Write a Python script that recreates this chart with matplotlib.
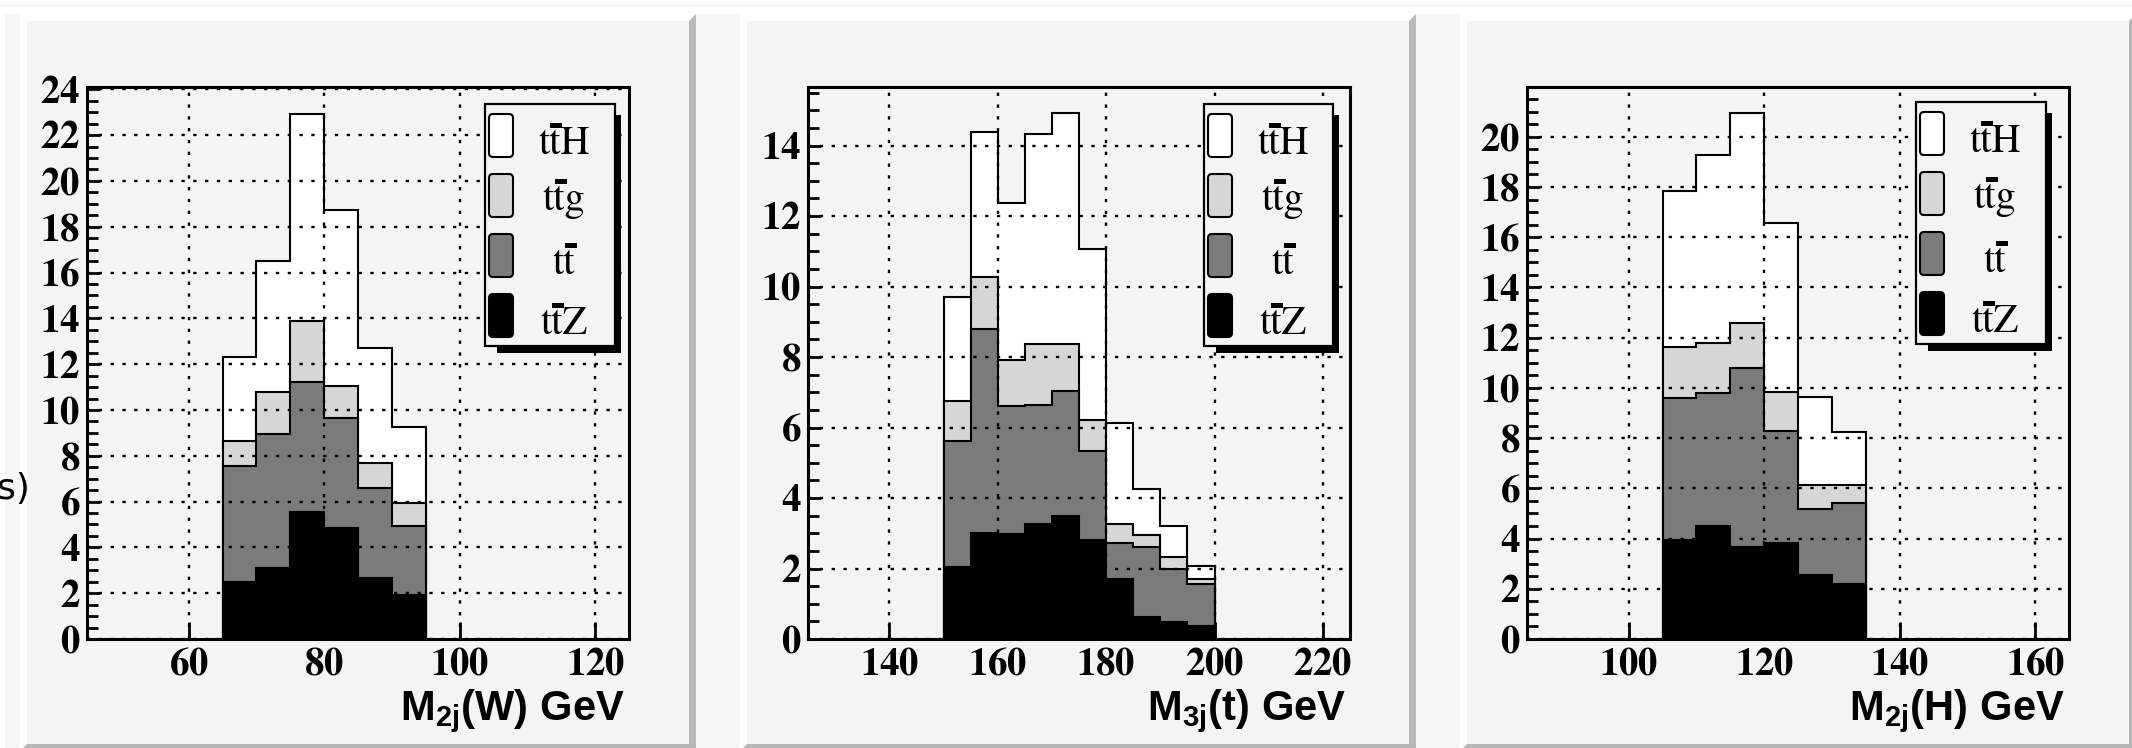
import matplotlib
matplotlib.use("Agg")
import matplotlib.pyplot as plt
import numpy as np
from matplotlib.patches import Polygon, Rectangle, FancyBboxPatch
from matplotlib.ticker import MultipleLocator
from matplotlib.font_manager import FontProperties

SERIF = ['STIXGeneral', 'Liberation Serif', 'DejaVu Serif']
plt.rcParams['font.family'] = SERIF
plt.rcParams['font.weight'] = 'normal'
plt.rcParams['mathtext.fontset'] = 'custom'
plt.rcParams['mathtext.rm'] = 'Liberation Sans:bold'
plt.rcParams['mathtext.it'] = 'Liberation Sans:bold'
plt.rcParams['mathtext.bf'] = 'Liberation Sans:bold'

# ---------------- data ----------------
series_names = ['ttH', 'ttg', 'tt', 'ttZ']       # second "t" carries an overbar (t-bar)
series_colors = ['#ffffff', '#d6d6d6', '#7b7b7b', '#000000']

# panel 1 : M2j(W)
w_edges = [65, 70, 75, 80, 85, 90, 95]
w_ttZ = [2.50, 3.10, 5.55, 4.85, 2.65, 1.90]
w_tt  = [5.05, 5.85, 5.65, 4.80, 3.95, 3.05]
w_ttg = [1.10, 1.85, 2.70, 1.40, 1.10, 1.00]
w_ttH = [3.65, 5.70, 9.00, 7.70, 5.00, 3.30]

# panel 2 : M3j(t)
t_edges = [150, 155, 160, 165, 170, 175, 180, 185, 190, 195, 200]
t_ttZ = [2.03, 3.00, 2.98, 3.25, 3.48, 2.80, 1.69, 0.61, 0.47, 0.38]
t_tt  = [3.58, 5.79, 3.62, 3.40, 3.55, 2.54, 1.04, 2.00, 1.52, 1.18]
t_ttg = [1.13, 1.49, 1.31, 1.71, 1.33, 0.88, 0.54, 0.33, 0.34, 0.13]
t_ttH = [2.97, 4.09, 4.47, 5.98, 6.55, 4.84, 2.87, 1.31, 0.88, 0.38]

# panel 3 : M2j(H)
h_edges = [105, 110, 115, 120, 125, 130, 135]
h_ttZ = [3.95, 4.50, 3.65, 3.84, 2.56, 2.18]
h_tt  = [5.64, 5.28, 7.14, 4.46, 2.61, 3.23]
h_ttg = [2.03, 2.00, 1.78, 1.54, 0.95, 0.71]
h_ttH = [6.23, 7.50, 8.36, 6.72, 3.53, 2.14]

x_labels = [r'$\mathrm{M_{2j}(W)\ GeV}$', r'$\mathrm{M_{3j}(t)\ GeV}$', r'$\mathrm{M_{2j}(H)\ GeV}$']
x_limits = [(45, 125), (125, 225), (85, 165)]
y_limits = [(0, 24.1), (0, 15.66), (0, 21.98)]

panels = [
    (w_edges, [w_ttZ, w_tt, w_ttg, w_ttH]),
    (t_edges, [t_ttZ, t_tt, t_ttg, t_ttH]),
    (h_edges, [h_ttZ, h_tt, h_ttg, h_ttH]),
]

# ---------------- layout (pixels) ----------------
W, H = 2132, 748
fig = plt.figure(figsize=(W / 100, H / 100), dpi=100, facecolor='white')
renderer = fig.canvas.get_renderer()

bg = fig.add_axes([0, 0, 1, 1], zorder=-10)
bg.set_xlim(0, W); bg.set_ylim(H, 0); bg.axis('off')
bg.add_patch(Rectangle((0, 0), W, H, facecolor='white', edgecolor='none'))
bg.plot([0, W], [5, 5], color='#eeeeee', lw=0.8)
bg.add_patch(Rectangle((5, 14), W, H, facecolor='#f6f6f6', edgecolor='none'))
pitch = 720
b = 7
for k in range(3):
    X0, X1, Y0, Y1 = 20 + pitch * k, 696 + pitch * k, 14, 751
    bg.add_patch(Polygon([(X0, Y0), (X1, Y0), (X1 - b, Y0 + b), (X0 + b, Y0 + b), (X0 + b, Y1 - b), (X0, Y1)],
                         closed=True, facecolor='white', edgecolor='none'))
    bg.add_patch(Polygon([(X1, Y0), (X1, Y1), (X0, Y1), (X0 + b, Y1 - b), (X1 - b, Y1 - b), (X1 - b, Y0 + b)],
                         closed=True, facecolor='#b8b8b8', edgecolor='none'))
    bg.add_patch(Rectangle((X0 + b, Y0 + b), X1 - X0 - 2 * b, Y1 - Y0 - 2 * b, facecolor='#f4f4f4', edgecolor='none'))

bg.text(30, 489, 's)', ha='right', va='center', fontsize=26, family='DejaVu Sans', color='black')

frame_left = [87, 808, 1527]
frame_w = 542
frame_top, frame_bot = 87, 639

over = fig.add_axes([0, 0, 1, 1], zorder=10)
over.set_xlim(0, W); over.set_ylim(H, 0); over.axis('off')
over.patch.set_alpha(0)

legend_boxes = [(485, 104, 615, 346), (1204, 104, 1333, 346), (1916, 102, 2046, 344)]
baseline_off = [50, 106, 170, 230]
leg_prop = FontProperties(family=SERIF, weight='normal', size=29)


def text_w(s):
    w, h, d = renderer.get_text_width_height_descent(s, leg_prop, ismath=False)
    return w


def bold_num(v):
    return r'$\mathbf{' + f'{v:g}' + '}$'


tick_prop = dict(math_fontfamily='stix', fontsize=28)

for k, (edges, comps) in enumerate(panels):
    ax = fig.add_axes([frame_left[k] / W, (H - frame_bot) / H, frame_w / W, (frame_bot - frame_top) / H], zorder=1)
    ax.set_facecolor('none')
    cum = np.cumsum(np.array(comps), axis=0)   # ttZ, +tt, +ttg, +ttH
    fill_for_level = [series_colors[3], series_colors[2], series_colors[1], series_colors[0]]
    for i in [3, 2, 1, 0]:
        ax.stairs(cum[i], edges, baseline=0, fill=True, facecolor=fill_for_level[i],
                  edgecolor='black', lw=1.5, zorder=1)
    ax.set_xlim(*x_limits[k]); ax.set_ylim(*y_limits[k])
    xt = np.arange(np.ceil(x_limits[k][0] / 20) * 20, x_limits[k][1] + 0.01, 20)
    yt = np.arange(0, y_limits[k][1] + 0.01, 2)
    ax.yaxis.set_minor_locator(MultipleLocator(0.5))
    ax.set_axisbelow(False)
    ax.grid(True, which='major', color='black', linestyle=(0, (1.4, 3.6)), linewidth=1.7)
    for s in ax.spines.values():
        s.set_linewidth(2.2); s.set_color('black'); s.set_zorder(5)
    ax.tick_params(axis='y', which='major', direction='in', length=9, width=2, pad=5)
    ax.tick_params(axis='y', which='minor', direction='in', length=8, width=2)
    ax.tick_params(axis='x', which='major', direction='in', length=12, width=2, pad=6)
    ax.tick_params(axis='x', which='minor', length=0)
    ax.set_xticks(xt)
    ax.set_xticklabels([bold_num(v) for v in xt], **tick_prop)
    ax.set_yticks(yt)
    ax.set_yticklabels([bold_num(v) for v in yt], **tick_prop)

    # x label
    over.text(frame_left[k] + frame_w - 4, 720, x_labels[k], ha='right', va='baseline', fontsize=30)

    # legend (ROOT-like, with shadow)
    L, T, R, B = legend_boxes[k]
    over.add_patch(Rectangle((L + 12, T + 11), (R + 6) - (L + 12), (B + 7) - (T + 11),
                             facecolor='black', edgecolor='none'))
    over.add_patch(Rectangle((L, T), R - L, B - T, facecolor='#f4f4f4', edgecolor='black', lw=1.6))
    for j in range(4):
        sy = T + 10 + 60 * j
        over.add_patch(FancyBboxPatch((L + 4, sy), 24, 43, boxstyle='round,pad=0,rounding_size=4',
                                      facecolor=series_colors[j], edgecolor='black', lw=1.5))
        name = series_names[j]
        cx = L + 79
        base = T + baseline_off[j]
        over.text(cx, base, name, ha='center', va='baseline', fontproperties=leg_prop, color='black')
        wt = text_w(name)
        w1 = text_w('t')
        w2 = text_w('tt')
        left = cx - wt / 2
        t2l = left + (w2 - w1)
        t2c = t2l + w1 / 2 + 1
        over.add_patch(Rectangle((t2c - 6, base - 31), 12, 5, facecolor='black', edgecolor='none'))

fig.savefig('out.png', dpi=100, facecolor='white')
